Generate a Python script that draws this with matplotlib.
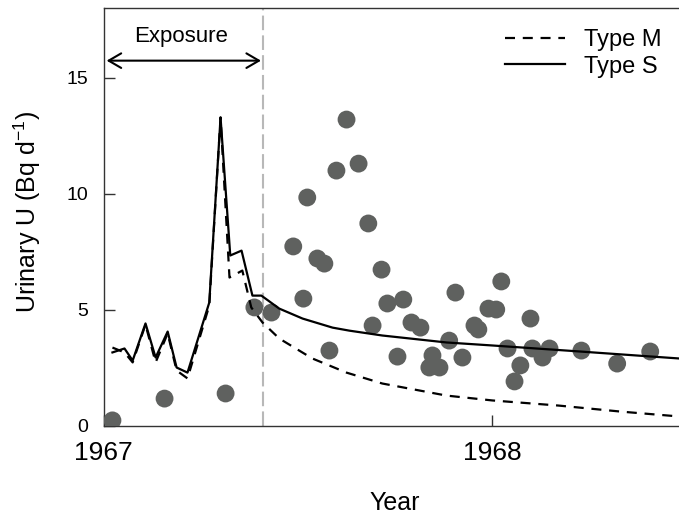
import matplotlib
matplotlib.use("Agg")
import matplotlib.pyplot as plt
from matplotlib.lines import Line2D

plt.rcParams['font.family'] = ['Liberation Sans', 'DejaVu Sans']
plt.rcParams['mathtext.default'] = 'regular'

# Measured urinary uranium (decimal year, Bq/d)
obs_year = [1967.023, 1967.157, 1967.314, 1967.388, 1967.432, 1967.488, 1967.514, 1967.524,
            1967.550, 1967.568, 1967.581, 1967.599, 1967.625, 1967.656, 1967.681, 1967.692,
            1967.715, 1967.730, 1967.756, 1967.771, 1967.792, 1967.815, 1967.846, 1967.838,
            1967.864, 1967.889, 1967.905, 1967.923, 1967.954, 1967.964, 1967.990, 1968.010,
            1968.023, 1968.039, 1968.057, 1968.072, 1968.098, 1968.103, 1968.129, 1968.147,
            1968.229, 1968.321, 1968.406]
obs_value = [0.22, 1.16, 1.38, 5.09, 4.87, 7.72, 5.47, 9.83,
             7.20, 6.98, 3.23, 10.99, 13.19, 11.29, 8.71, 4.31,
             6.72, 5.26, 2.97, 5.43, 4.44, 4.22, 3.02, 2.50,
             2.50, 3.66, 5.73, 2.93, 4.31, 4.14, 5.04, 5.00,
             6.21, 3.32, 1.90, 2.59, 4.61, 3.32, 2.93, 3.32,
             3.23, 2.67, 3.19]

# Model prediction, Type S (solid)
s_year = [1967.023, 1967.054, 1967.075, 1967.108, 1967.134, 1967.165, 1967.188, 1967.216,
          1967.272, 1967.301, 1967.326, 1967.355, 1967.383, 1967.406, 1967.452, 1967.512,
          1967.589, 1967.632, 1967.717, 1967.882, 1968.000, 1968.200, 1968.480]
s_value = [3.15, 3.32, 2.80, 4.40, 2.93, 4.05, 2.50, 2.28,
           5.30, 13.28, 7.33, 7.54, 5.60, 5.60, 5.04, 4.61,
           4.22, 4.09, 3.88, 3.58, 3.45, 3.22, 2.89]

# Model prediction, Type M (dashed)
m_year = [1967.023, 1967.054, 1967.075, 1967.108, 1967.134, 1967.165, 1967.188, 1967.216,
          1967.272, 1967.301, 1967.324, 1967.357, 1967.380, 1967.409, 1967.452, 1967.537,
          1967.625, 1967.717, 1967.882, 1968.000, 1968.170, 1968.330, 1968.480]
m_value = [3.36, 3.15, 2.72, 4.35, 2.72, 3.97, 2.37, 2.03,
           5.17, 13.28, 6.38, 6.68, 5.09, 4.44, 3.75, 2.89,
           2.28, 1.81, 1.29, 1.08, 0.86, 0.60, 0.39]

exposure_start = 1967.008
exposure_end = 1967.409

x_ticks = [1967, 1968]
x_ticklabels = ['1967', '1968']
y_ticks = [0, 5, 10, 15]

fig = plt.figure(figsize=(6.79, 5.14), dpi=100)
ax = fig.add_axes([103.5 / 679, 1 - 425.5 / 514, (679 - 103.5) / 679, (425.5 - 8) / 514])

ax.scatter(obs_year, obs_value, s=165, color='#5f615f', edgecolors='none', zorder=3)
ax.plot(m_year, m_value, color='black', lw=1.6, dashes=(4.5, 3.5), zorder=4)
ax.plot(s_year, s_value, color='black', lw=1.6, zorder=4)

ax.axvline(exposure_end, color='#b8b8b8', lw=1.5, dashes=(7, 2.5), zorder=1)
ax.annotate('', xy=(exposure_start, 15.73), xytext=(exposure_end - 0.004, 15.73),
            arrowprops=dict(arrowstyle='<->,head_length=0.6,head_width=0.35', lw=1.5,
                            color='black', mutation_scale=15, shrinkA=0, shrinkB=0))
ax.text(1967.2, 16.75, 'Exposure', ha='center', va='center', fontsize=16)

ax.set_xlim(1967, 1968.48)
ax.set_ylim(0, 18)
ax.set_xticks(x_ticks)
ax.set_xticklabels(x_ticklabels)
ax.set_yticks(y_ticks)
ax.tick_params(axis='x', direction='in', length=8, width=1, color='#333333', labelsize=19, pad=11)
ax.tick_params(axis='y', direction='in', length=8, width=1, color='#333333', labelsize=14, pad=11)
for side in ['left', 'bottom', 'top']:
    ax.spines[side].set_color('#333333')
    ax.spines[side].set_linewidth(1.0)
ax.spines['right'].set_visible(False)

handles = [Line2D([], [], color='black', lw=1.6, dashes=(4.5, 3.5)),
           Line2D([], [], color='black', lw=1.6)]
ax.legend(handles, ['Type M', 'Type S'], loc='upper right', frameon=False, fontsize=17,
          bbox_to_anchor=(662 / 679, 1 - 29 / 514), bbox_transform=fig.transFigure,
          borderpad=0, borderaxespad=0, handlelength=2.56, handletextpad=0.8, labelspacing=0.2)

fig.text(27 / 679, 1 - 212 / 514, 'Urinary U (Bq d$^{-1}$)', rotation=90, ha='center', va='center', fontsize=18)
fig.text(395 / 679, 1 - 510 / 514, 'Year', ha='center', va='baseline', fontsize=18)

fig.savefig('out.png', dpi=100)
